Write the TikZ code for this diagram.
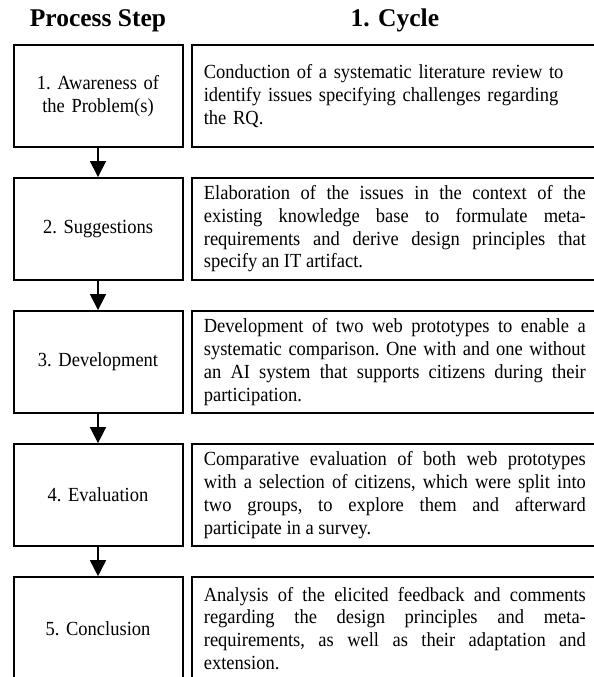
\documentclass[tikz,border=0pt]{standalone}
\usepackage{fontspec}
\setmainfont{Liberation Serif}
\newfontfamily\bodyfamily{Liberation Serif}[FakeStretch=0.925]
\usetikzlibrary{arrows.meta}
\newcommand\bodyfont{\bodyfamily\fontsize{20}{22.7}\selectfont\frenchspacing}
\newcommand\headfont{\fontsize{25.5}{28}\selectfont\bfseries}
\tikzset{
  stepbox/.style={draw, line width=2pt, minimum width=169pt, minimum height=102pt,
    text width=155pt, align=center, inner sep=0pt, font=\bodyfont},
  cyclebox/.style={draw, line width=2pt, minimum width=406.3pt, minimum height=102pt,
    text width=382pt, align=justify, inner xsep=12.15pt, inner ysep=0pt, font=\bodyfont},
  flow/.style={line width=1.5pt, -{Triangle[width=16pt,length=16pt]}},
  header/.style={font=\headfont, anchor=base},
}
\begin{document}
\begin{tikzpicture}[x=1pt, y=1pt]
  \useasboundingbox (0,0) rectangle (594,-677);
  \fill[white] (0,0) rectangle (594,-677);
  \clip (0,0) rectangle (594,-677);

  % column headers
  \node[header] (hstep) at (98,-27) {Process Step};
  \node[header] (hcycle) at (394.85,-27) {1. Cycle};

  % process steps (left column)
  \node[stepbox] (s1) at (98,-96)     {1. Awareness of\\ the Problem(s)};
  \node[stepbox] (s2) at (98,-229.05) {2. Suggestions};
  \node[stepbox] (s3) at (98,-362.1)  {3. Development};
  \node[stepbox] (s4) at (98,-495.15) {4. Evaluation};
  \node[stepbox] (s5) at (98,-628.2)  {5. Conclusion};

  % activities of the first cycle (right column)
  \node[cyclebox, align=left] (c1) at (394.85,-96)
    {Conduction of a systematic literature review to\\
     identify issues specifying challenges regarding\\
     the RQ.};
  \node[cyclebox] (c2) at (394.85,-229.05)
    {Elaboration of the issues in the context of the\linebreak
     existing knowledge base to formulate meta-\linebreak
     requirements and derive design principles that\linebreak
     specify an IT artifact.};
  \node[cyclebox] (c3) at (394.85,-362.1)
    {Development of two web prototypes to enable a\linebreak
     systematic comparison. One with and one without\linebreak
     an AI system that supports citizens during their\linebreak
     participation.};
  \node[cyclebox] (c4) at (394.85,-495.15)
    {Comparative evaluation of both web prototypes\linebreak
     with a selection of citizens, which were split into\linebreak
     two groups, to explore them and afterward\linebreak
     participate in a survey.};
  \node[cyclebox] (c5) at (394.85,-628.2)
    {Analysis of the elicited feedback and comments\linebreak
     regarding the design principles and meta-\linebreak
     requirements, as well as their adaptation and\linebreak
     extension.};

  % flow between the steps
  \draw[flow] (s1.south) -- (s2.north);
  \draw[flow] (s2.south) -- (s3.north);
  \draw[flow] (s3.south) -- (s4.north);
  \draw[flow] (s4.south) -- (s5.north);
\end{tikzpicture}
\end{document}
